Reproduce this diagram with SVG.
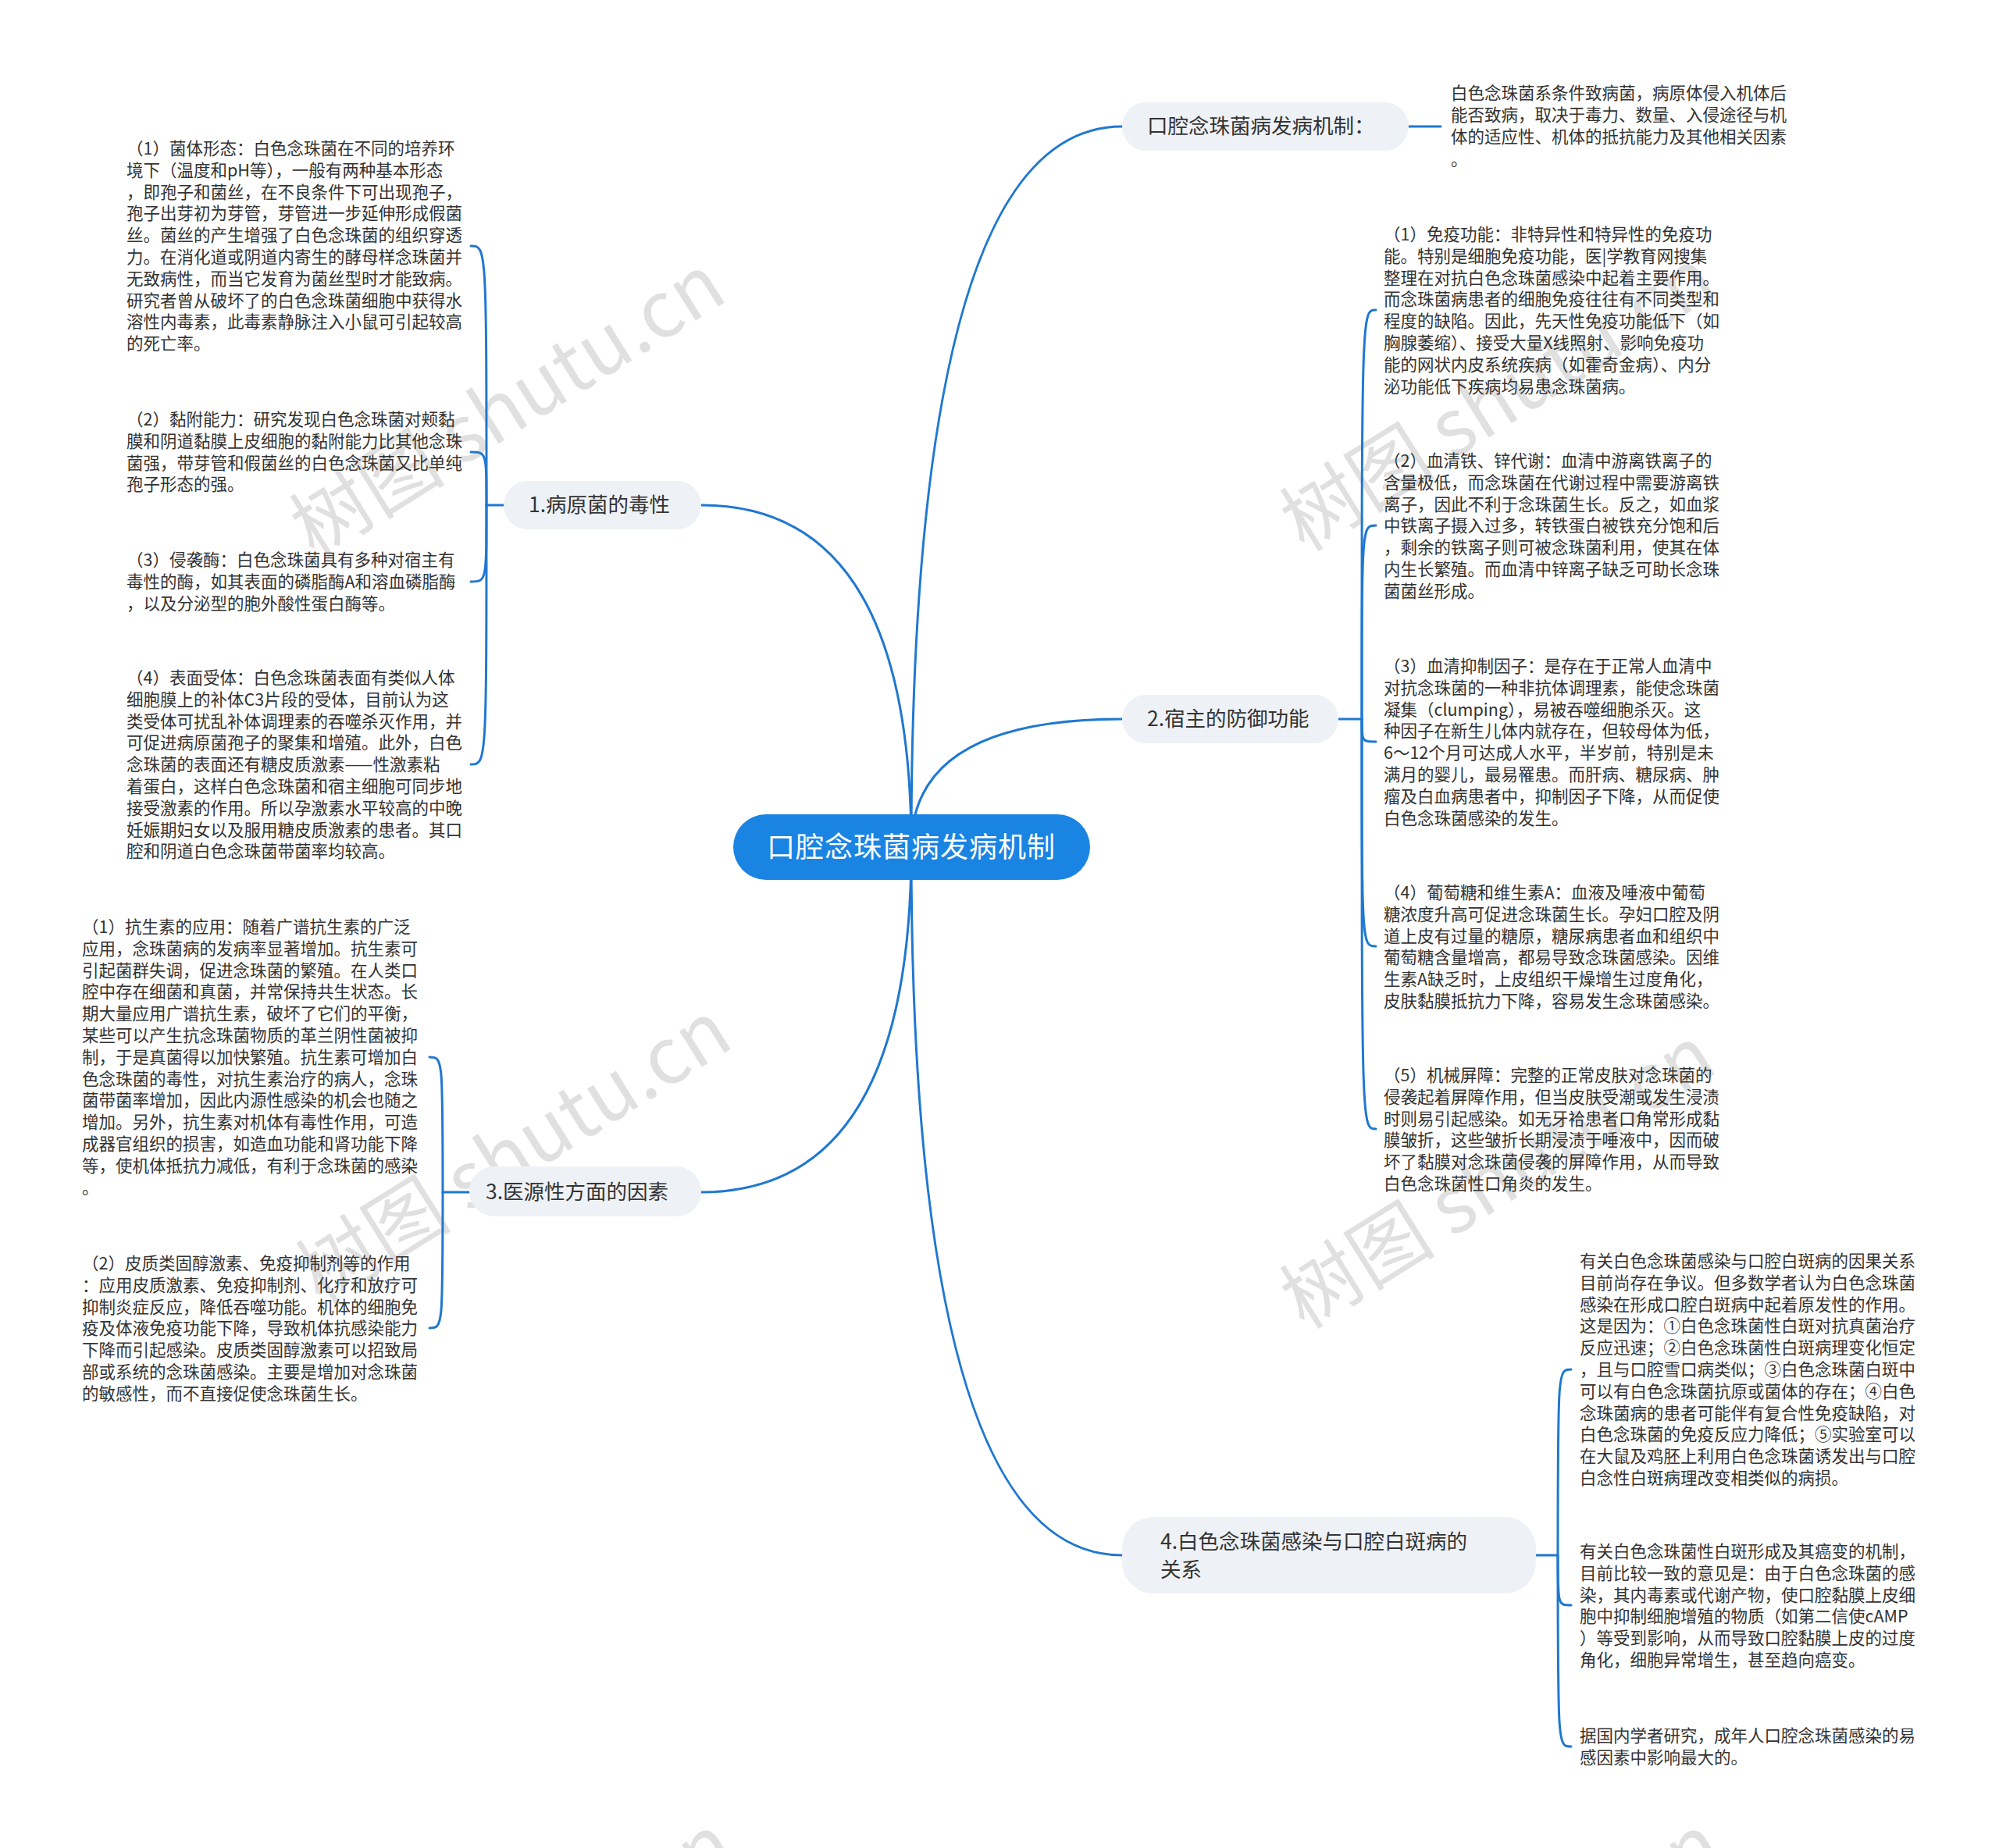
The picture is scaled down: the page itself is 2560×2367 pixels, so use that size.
<svg xmlns="http://www.w3.org/2000/svg" width="2560" height="2367" viewBox="0 0 2560 2367">
<style>
.wm{font-family:"Noto Sans CJK SC","Liberation Sans",sans-serif;font-size:100px;fill:#000;fill-opacity:0.12;text-anchor:middle}
.leaf{font-family:"Noto Sans CJK SC","Liberation Sans",sans-serif;font-size:21.5px;fill:#333}
.n2{fill:#eef1f5}
.n2t{font-family:"Noto Sans CJK SC","Liberation Sans",sans-serif;font-size:26.5px;fill:#333}
.root{fill:#1a84e3}
.roott{font-family:"Noto Sans CJK SC","Liberation Sans",sans-serif;font-size:36px;fill:#fff;text-anchor:middle}
.ln{fill:none;stroke:#1f78d1;stroke-width:3;stroke-linecap:round}
</style>
<rect width="2560" height="2367" fill="#fff"/>
<g id="watermarks">
<text class="wm" transform="translate(650,520) rotate(-32)" y="35">树图 shutu.cn</text>
<text class="wm" transform="translate(658,1476) rotate(-32)" y="35">树图 shutu.cn</text>
<text class="wm" transform="translate(1918,512) rotate(-32)" y="35">树图 shutu.cn</text>
<text class="wm" transform="translate(1918,1508) rotate(-32)" y="35">树图 shutu.cn</text>
<text class="wm" transform="translate(661,2518) rotate(-32)" y="35">树图 shutu.cn</text>
<text class="wm" transform="translate(1926,2518) rotate(-32)" y="35">树图 shutu.cn</text>
</g>
<g id="connectors">
<path class="ln" d="M1167 1085 Q1167 162 1437 162"/>
<path class="ln" d="M1167 1085 Q1167 921 1437 921"/>
<path class="ln" d="M1167 1085 Q1167 1992 1437 1992"/>
<path class="ln" d="M1167 1085 Q1167 647 898 647"/>
<path class="ln" d="M1167 1085 Q1167 1527 898 1527"/>
<path class="ln" d="M1804 162 L1845 162"/>
<path class="ln" d="M645 647 L623 647"/>
<path class="ln" d="M623 647 C623 315 623 315 603 315"/>
<path class="ln" d="M623 647 C623 579 623 579 603 579"/>
<path class="ln" d="M623 647 C623 745 623 745 603 745"/>
<path class="ln" d="M623 647 C623 979 623 979 603 979"/>
<path class="ln" d="M601 1527 L567 1527"/>
<path class="ln" d="M567 1527 C567 1354 567 1354 550 1354"/>
<path class="ln" d="M567 1527 C567 1701 567 1701 550 1701"/>
<path class="ln" d="M1714 921 L1744 921"/>
<path class="ln" d="M1744 921 C1744 397 1744 397 1762 397"/>
<path class="ln" d="M1744 921 C1744 673 1744 673 1762 673"/>
<path class="ln" d="M1744 921 C1744 950 1744 950 1762 950"/>
<path class="ln" d="M1744 921 C1744 1212 1744 1212 1762 1212"/>
<path class="ln" d="M1744 921 C1744 1446 1744 1446 1762 1446"/>
<path class="ln" d="M1967 1992 L1995 1992"/>
<path class="ln" d="M1995 1992 C1995 1754 1995 1754 2012 1754"/>
<path class="ln" d="M1995 1992 C1995 2056 1995 2056 2012 2056"/>
<path class="ln" d="M1995 1992 C1995 2237 1995 2237 2012 2237"/>
</g>
<g id="root">
<rect class="root" x="939" y="1043" width="457" height="84" rx="42"/>
<text class="roott" x="1167" y="1098" letter-spacing="1">口腔念珠菌病发病机制</text>
</g>
<g id="nodeA">
<rect class="n2" x="1437" y="131" width="367" height="62" rx="31"/>
<text class="n2t" x="1469" y="171">口腔念珠菌病发病机制：</text>
</g>
<g id="nodeB">
<rect class="n2" x="1437" y="890" width="277" height="62" rx="31"/>
<text class="n2t" x="1469" y="930">2.宿主的防御功能</text>
</g>
<g id="nodeC">
<rect class="n2" x="1437" y="1943" width="530" height="98" rx="40"/>
<text class="n2t" x="1486" y="1984">4.白色念珠菌感染与口腔白斑病的</text>
<text class="n2t" x="1486" y="2020">关系</text>
</g>
<g id="nodeD">
<rect class="n2" x="645" y="616" width="253" height="62" rx="31"/>
<text class="n2t" x="677" y="656">1.病原菌的毒性</text>
</g>
<g id="nodeE">
<rect class="n2" x="601" y="1494" width="297" height="64" rx="32"/>
<text class="n2t" x="622" y="1536">3.医源性方面的因素</text>
</g>
<g id="leafA">
<text class="leaf" x="1858" y="127"><tspan x="1858" dy="0">白色念珠菌系条件致病菌，病原体侵入机体后</tspan><tspan x="1858" dy="27.8">能否致病，取决于毒力、数量、入侵途径与机</tspan><tspan x="1858" dy="27.8">体的适应性、机体的抵抗能力及其他相关因素</tspan><tspan x="1858" dy="29">。</tspan></text>
</g>
<g id="leafD1">
<text class="leaf" x="162" y="198"><tspan x="162" dy="0">（1）菌体形态：白色念珠菌在不同的培养环</tspan><tspan x="162" dy="27.8">境下（温度和pH等），一般有两种基本形态</tspan><tspan x="162" dy="27.8">，即孢子和菌丝，在不良条件下可出现孢子，</tspan><tspan x="162" dy="27.8">孢子出芽初为芽管，芽管进一步延伸形成假菌</tspan><tspan x="162" dy="27.8">丝。菌丝的产生增强了白色念珠菌的组织穿透</tspan><tspan x="162" dy="27.8">力。在消化道或阴道内寄生的酵母样念珠菌并</tspan><tspan x="162" dy="27.8">无致病性，而当它发育为菌丝型时才能致病。</tspan><tspan x="162" dy="27.8">研究者曾从破坏了的白色念珠菌细胞中获得水</tspan><tspan x="162" dy="27.8">溶性内毒素，此毒素静脉注入小鼠可引起较高</tspan><tspan x="162" dy="27.8">的死亡率。</tspan></text>
</g>
<g id="leafD2">
<text class="leaf" x="162" y="545"><tspan x="162" dy="0">（2）黏附能力：研究发现白色念珠菌对颊黏</tspan><tspan x="162" dy="27.8">膜和阴道黏膜上皮细胞的黏附能力比其他念珠</tspan><tspan x="162" dy="27.8">菌强，带芽管和假菌丝的白色念珠菌又比单纯</tspan><tspan x="162" dy="27.8">孢子形态的强。</tspan></text>
</g>
<g id="leafD3">
<text class="leaf" x="162" y="725"><tspan x="162" dy="0">（3）侵袭酶：白色念珠菌具有多种对宿主有</tspan><tspan x="162" dy="27.8">毒性的酶，如其表面的磷脂酶A和溶血磷脂酶</tspan><tspan x="162" dy="27.8">，以及分泌型的胞外酸性蛋白酶等。</tspan></text>
</g>
<g id="leafD4">
<text class="leaf" x="162" y="876"><tspan x="162" dy="0">（4）表面受体：白色念珠菌表面有类似人体</tspan><tspan x="162" dy="27.8">细胞膜上的补体C3片段的受体，目前认为这</tspan><tspan x="162" dy="27.8">类受体可扰乱补体调理素的吞噬杀灭作用，并</tspan><tspan x="162" dy="27.8">可促进病原菌孢子的聚集和增殖。此外，白色</tspan><tspan x="162" dy="27.8">念珠菌的表面还有糖皮质激素——性激素粘</tspan><tspan x="162" dy="27.8">着蛋白，这样白色念珠菌和宿主细胞可同步地</tspan><tspan x="162" dy="27.8">接受激素的作用。所以孕激素水平较高的中晚</tspan><tspan x="162" dy="27.8">妊娠期妇女以及服用糖皮质激素的患者。其口</tspan><tspan x="162" dy="27.8">腔和阴道白色念珠菌带菌率均较高。</tspan></text>
</g>
<g id="leafE1">
<text class="leaf" x="105" y="1195"><tspan x="105" dy="0">（1）抗生素的应用：随着广谱抗生素的广泛</tspan><tspan x="105" dy="27.8">应用，念珠菌病的发病率显著增加。抗生素可</tspan><tspan x="105" dy="27.8">引起菌群失调，促进念珠菌的繁殖。在人类口</tspan><tspan x="105" dy="27.8">腔中存在细菌和真菌，并常保持共生状态。长</tspan><tspan x="105" dy="27.8">期大量应用广谱抗生素，破坏了它们的平衡，</tspan><tspan x="105" dy="27.8">某些可以产生抗念珠菌物质的革兰阴性菌被抑</tspan><tspan x="105" dy="27.8">制，于是真菌得以加快繁殖。抗生素可增加白</tspan><tspan x="105" dy="27.8">色念珠菌的毒性，对抗生素治疗的病人，念珠</tspan><tspan x="105" dy="27.8">菌带菌率增加，因此内源性感染的机会也随之</tspan><tspan x="105" dy="27.8">增加。另外，抗生素对机体有毒性作用，可造</tspan><tspan x="105" dy="27.8">成器官组织的损害，如造血功能和肾功能下降</tspan><tspan x="105" dy="27.8">等，使机体抵抗力减低，有利于念珠菌的感染</tspan><tspan x="105" dy="27.8">。</tspan></text>
</g>
<g id="leafE2">
<text class="leaf" x="105" y="1626"><tspan x="105" dy="0">（2）皮质类固醇激素、免疫抑制剂等的作用</tspan><tspan x="105" dy="27.8">：应用皮质激素、免疫抑制剂、化疗和放疗可</tspan><tspan x="105" dy="27.8">抑制炎症反应，降低吞噬功能。机体的细胞免</tspan><tspan x="105" dy="27.8">疫及体液免疫功能下降，导致机体抗感染能力</tspan><tspan x="105" dy="27.8">下降而引起感染。皮质类固醇激素可以招致局</tspan><tspan x="105" dy="27.8">部或系统的念珠菌感染。主要是增加对念珠菌</tspan><tspan x="105" dy="27.8">的敏感性，而不直接促使念珠菌生长。</tspan></text>
</g>
<g id="leafB1">
<text class="leaf" x="1772" y="308"><tspan x="1772" dy="0">（1）免疫功能：非特异性和特异性的免疫功</tspan><tspan x="1772" dy="27.8">能。特别是细胞免疫功能，医|学教育网搜集</tspan><tspan x="1772" dy="27.8">整理在对抗白色念珠菌感染中起着主要作用。</tspan><tspan x="1772" dy="27.8">而念珠菌病患者的细胞免疫往往有不同类型和</tspan><tspan x="1772" dy="27.8">程度的缺陷。因此，先天性免疫功能低下（如</tspan><tspan x="1772" dy="27.8">胸腺萎缩）、接受大量X线照射、影响免疫功</tspan><tspan x="1772" dy="27.8">能的网状内皮系统疾病（如霍奇金病）、内分</tspan><tspan x="1772" dy="27.8">泌功能低下疾病均易患念珠菌病。</tspan></text>
</g>
<g id="leafB2">
<text class="leaf" x="1772" y="598"><tspan x="1772" dy="0">（2）血清铁、锌代谢：血清中游离铁离子的</tspan><tspan x="1772" dy="27.8">含量极低，而念珠菌在代谢过程中需要游离铁</tspan><tspan x="1772" dy="27.8">离子，因此不利于念珠菌生长。反之，如血浆</tspan><tspan x="1772" dy="27.8">中铁离子摄入过多，转铁蛋白被铁充分饱和后</tspan><tspan x="1772" dy="27.8">，剩余的铁离子则可被念珠菌利用，使其在体</tspan><tspan x="1772" dy="27.8">内生长繁殖。而血清中锌离子缺乏可助长念珠</tspan><tspan x="1772" dy="27.8">菌菌丝形成。</tspan></text>
</g>
<g id="leafB3">
<text class="leaf" x="1772" y="861"><tspan x="1772" dy="0">（3）血清抑制因子：是存在于正常人血清中</tspan><tspan x="1772" dy="27.8">对抗念珠菌的一种非抗体调理素，能使念珠菌</tspan><tspan x="1772" dy="27.8">凝集（clumping），易被吞噬细胞杀灭。这</tspan><tspan x="1772" dy="27.8">种因子在新生儿体内就存在，但较母体为低，</tspan><tspan x="1772" dy="27.8">6～12个月可达成人水平，半岁前，特别是未</tspan><tspan x="1772" dy="27.8">满月的婴儿，最易罹患。而肝病、糖尿病、肿</tspan><tspan x="1772" dy="27.8">瘤及白血病患者中，抑制因子下降，从而促使</tspan><tspan x="1772" dy="27.8">白色念珠菌感染的发生。</tspan></text>
</g>
<g id="leafB4">
<text class="leaf" x="1772" y="1151"><tspan x="1772" dy="0">（4）葡萄糖和维生素A：血液及唾液中葡萄</tspan><tspan x="1772" dy="27.8">糖浓度升高可促进念珠菌生长。孕妇口腔及阴</tspan><tspan x="1772" dy="27.8">道上皮有过量的糖原，糖尿病患者血和组织中</tspan><tspan x="1772" dy="27.8">葡萄糖含量增高，都易导致念珠菌感染。因维</tspan><tspan x="1772" dy="27.8">生素A缺乏时，上皮组织干燥增生过度角化，</tspan><tspan x="1772" dy="27.8">皮肤黏膜抵抗力下降，容易发生念珠菌感染。</tspan></text>
</g>
<g id="leafB5">
<text class="leaf" x="1772" y="1385"><tspan x="1772" dy="0">（5）机械屏障：完整的正常皮肤对念珠菌的</tspan><tspan x="1772" dy="27.8">侵袭起着屏障作用，但当皮肤受潮或发生浸渍</tspan><tspan x="1772" dy="27.8">时则易引起感染。如无牙袷患者口角常形成黏</tspan><tspan x="1772" dy="27.8">膜皱折，这些皱折长期浸渍于唾液中，因而破</tspan><tspan x="1772" dy="27.8">坏了黏膜对念珠菌侵袭的屏障作用，从而导致</tspan><tspan x="1772" dy="27.8">白色念珠菌性口角炎的发生。</tspan></text>
</g>
<g id="leafC1">
<text class="leaf" x="2023" y="1623"><tspan x="2023" dy="0">有关白色念珠菌感染与口腔白斑病的因果关系</tspan><tspan x="2023" dy="27.8">目前尚存在争议。但多数学者认为白色念珠菌</tspan><tspan x="2023" dy="27.8">感染在形成口腔白斑病中起着原发性的作用。</tspan><tspan x="2023" dy="27.8">这是因为：①白色念珠菌性白斑对抗真菌治疗</tspan><tspan x="2023" dy="27.8">反应迅速；②白色念珠菌性白斑病理变化恒定</tspan><tspan x="2023" dy="27.8">，且与口腔雪口病类似；③白色念珠菌白斑中</tspan><tspan x="2023" dy="27.8">可以有白色念珠菌抗原或菌体的存在；④白色</tspan><tspan x="2023" dy="27.8">念珠菌病的患者可能伴有复合性免疫缺陷，对</tspan><tspan x="2023" dy="27.8">白色念珠菌的免疫反应力降低；⑤实验室可以</tspan><tspan x="2023" dy="27.8">在大鼠及鸡胚上利用白色念珠菌诱发出与口腔</tspan><tspan x="2023" dy="27.8">白念性白斑病理改变相类似的病损。</tspan></text>
</g>
<g id="leafC2">
<text class="leaf" x="2023" y="1995"><tspan x="2023" dy="0">有关白色念珠菌性白斑形成及其癌变的机制，</tspan><tspan x="2023" dy="27.8">目前比较一致的意见是：由于白色念珠菌的感</tspan><tspan x="2023" dy="27.8">染，其内毒素或代谢产物，使口腔黏膜上皮细</tspan><tspan x="2023" dy="27.8">胞中抑制细胞增殖的物质（如第二信使cAMP</tspan><tspan x="2023" dy="27.8">）等受到影响，从而导致口腔黏膜上皮的过度</tspan><tspan x="2023" dy="27.8">角化，细胞异常增生，甚至趋向癌变。</tspan></text>
</g>
<g id="leafC3">
<text class="leaf" x="2023" y="2231"><tspan x="2023" dy="0">据国内学者研究，成年人口腔念珠菌感染的易</tspan><tspan x="2023" dy="27.8">感因素中影响最大的。</tspan></text>
</g>
</svg>
